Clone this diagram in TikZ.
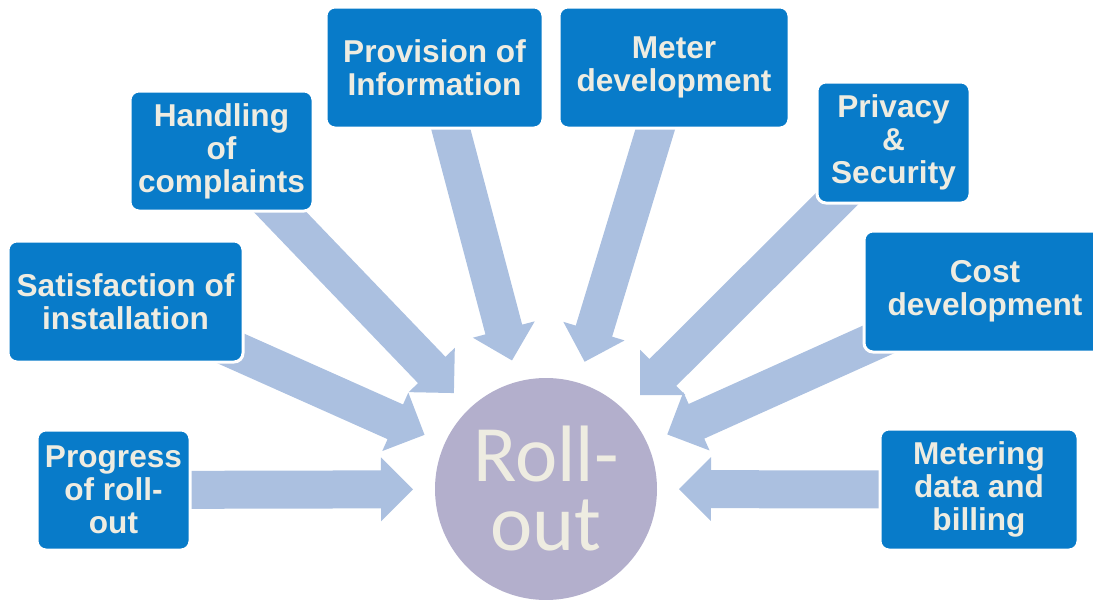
\documentclass[tikz,border=0pt]{standalone}
\usepackage{fontspec}
\setmainfont{Liberation Sans}
\newfontfamily\hubfont{Carlito}
\usetikzlibrary{calc,backgrounds}

\definecolor{boxblue}{RGB}{8,123,201}
\definecolor{feedblue}{RGB}{171,192,224}
\definecolor{hubviolet}{RGB}{179,175,204}
\definecolor{cream}{RGB}{238,236,225}

\tikzset{
  topic/.style={rectangle, rounded corners=9pt, fill=boxblue, draw=white,
    line width=3pt, text=cream, align=center, inner sep=0pt,
    font=\bfseries\fontsize{31.6}{33}\selectfont},
  hub/.style={circle, fill=hubviolet, minimum size=222pt, inner sep=0pt,
    text=cream, align=center, font=\hubfont\fontsize{80}{69}\selectfont},
  feed/.style={fill=feedblue}
}

\begin{document}
\begin{tikzpicture}[x=1pt,y=-1pt]
\useasboundingbox (0,0) rectangle (1093,600);
\clip (0,0) rectangle (1093,600);
% centre circle
\node[hub] (hub) at (546,489) {Roll-\\out};
% topic boxes, left to right
\node[topic, minimum width=153pt, minimum height=120pt] (prog) at (113.5,490) {Progress\\of roll-\\out};
\node[topic, minimum width=235pt, minimum height=121pt] (sat) at (125.5,301.5) {Satisfaction of\\installation};
\node[topic, minimum width=183pt, minimum height=120pt] (hand) at (221.5,151) {Handling\\of\\complaints};
\node[topic, minimum width=217pt, minimum height=121pt] (prov) at (434.5,67.5) {Provision of\\Information};
\node[topic, minimum width=230pt, minimum height=121pt] (meter) at (674,67.5) {Meter\\development};
\node[topic, minimum width=153pt, minimum height=121pt] (priv) at (893.5,142.5) {Privacy\\\&\\Security};
\node[topic, minimum width=242pt, minimum height=121pt] (cost) at (985,291.5) {Cost\\development};
\node[topic, minimum width=198pt, minimum height=121pt] (bill) at (979,489.5) {Metering\\data and\\billing};
% block arrows from each box towards the circle, kept behind the boxes
\begin{scope}[on background layer]
\foreach \b in {prog,sat,hand,prov,meter,priv,cost,bill} {
  \coordinate (tip) at ($(hub.center)!133pt!(\b.center)$);
  \coordinate (neck) at ($(tip)!32pt!(\b.center)$);
  \fill[feed] ($(\b.center)!19pt!90:(tip)$) -- ($(neck)!19pt!90:(tip)$)
    -- ($(neck)!32pt!90:(tip)$) -- (tip) -- ($(neck)!32pt!-90:(tip)$)
    -- ($(neck)!19pt!-90:(tip)$) -- ($(\b.center)!19pt!-90:(tip)$) -- cycle;
}
\end{scope}
\end{tikzpicture}
\end{document}
